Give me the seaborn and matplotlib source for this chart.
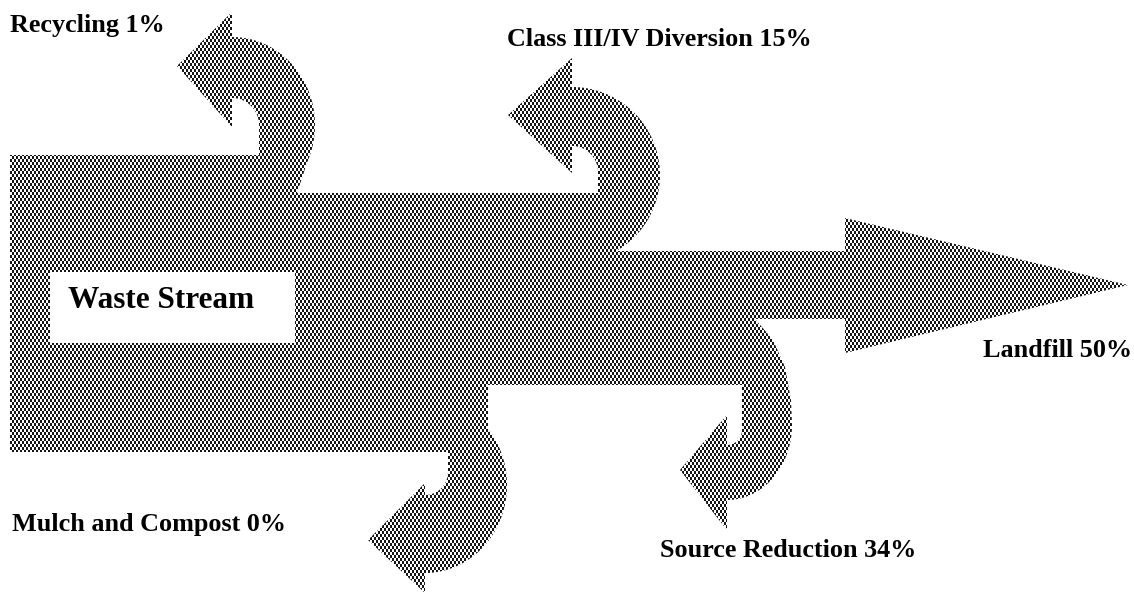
import numpy as np
import matplotlib
matplotlib.use("Agg")
import matplotlib.pyplot as plt
from matplotlib.patches import Polygon, Rectangle
import seaborn as sns

# ---- data ----
source_label = "Waste Stream"
categories = ["Recycling", "Class III/IV Diversion", "Landfill", "Source Reduction", "Mulch and Compost"]
percents = [1, 15, 50, 34, 0]

sns.set_theme(style="white")
plt.rcParams['font.family'] = ['Liberation Serif', 'DejaVu Serif']

W, H = 1134, 595
fig = plt.figure(figsize=(W / 100, H / 100), dpi=100)
ax = fig.add_axes([0, 0, 1, 1])
ax.set_xlim(0, W)
ax.set_ylim(H, 0)
ax.axis("off")


def arc(cx, cy, rx, ry, t0, t1, sy, n=60):
    t = np.radians(np.linspace(t0, t1, n))
    return list(zip(cx + rx * np.cos(t), cy + sy * ry * np.sin(t)))


# geometry of the flow shapes (pixel layout)
body = [(10, 155), (262, 155), (262, 193), (598, 193), (598, 251), (845, 251),
        (845, 218), (1128, 285), (845, 353), (845, 319), (742, 319), (742, 385),
        (488, 385), (488, 452), (10, 452)]

recycle = ([(255, 200), (297, 193)] + arc(232, 125, 83, 88, -25, 90, -1)
           + [(232, 12), (177, 66), (232, 127)] + arc(232, 125, 27, 27, 90, 0, -1)
           + [(259, 160), (255, 160)])

class34 = (arc(572, 175, 88, 88, -60, 90, -1)
           + [(572, 58), (508, 115), (572, 173)] + arc(572, 172, 26, 26, 90, 0, -1)
           + [(598, 251)])

mulch = ([(440, 380), (488, 380)] + arc(425, 485, 82, 88, -40, 90, 1)
         + [(425, 593), (368, 540), (425, 483)] + arc(425, 472, 23, 23, 90, 0, 1)
         + [(448, 445), (440, 445)])

source = ([(738, 315), (755, 319), (773, 340), (785, 367), (791, 400)]
          + arc(727, 425, 65, 75, 0, 90, 1)
          + [(727, 530), (680, 470), (727, 415)] + arc(727, 430, 15, 15, 90, 0, 1)
          + [(742, 380), (738, 380)])

shapes = [body, recycle, class34, mulch, source]

# stipple texture
yy, xx = np.mgrid[0:H, 0:W]
shift = 2 * ((yy // 3) % 2)
dark = ((xx + shift) % 4 < 2)
tex = np.where(dark, 0.08, 1.0)

for pts in shapes:
    poly = Polygon(pts, closed=True, facecolor="none", edgecolor="none")
    ax.add_patch(poly)
    im = ax.imshow(tex, cmap="gray", vmin=0, vmax=1, extent=(0, W, H, 0),
                   origin="upper", interpolation="nearest", aspect="auto", zorder=1)
    im.set_clip_path(poly)

# white label box for the source
ax.add_patch(Rectangle((50, 272), 245, 71, facecolor="white", edgecolor="none", zorder=2))
ax.text(68, 308, source_label, fontsize=22.5, fontweight="bold", color="black",
        ha="left", va="baseline", zorder=3)

label_pos = [(10, 32), (507, 46), (983, 357), (660, 557), (12, 531)]
for (x, y), cat, pct in zip(label_pos, categories, percents):
    ax.text(x, y, f"{cat} {pct}%", fontsize=18.8, fontweight="bold", color="black",
            ha="left", va="baseline", zorder=3)

fig.savefig("out.png", dpi=100, facecolor="white")
